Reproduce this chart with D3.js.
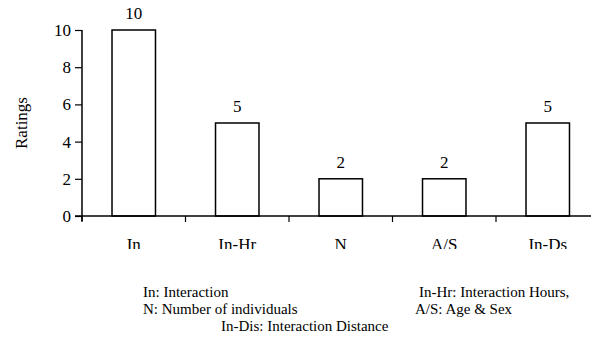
<!DOCTYPE html>
<html><head><meta charset="utf-8">
<script src="https://cdn.jsdelivr.net/npm/d3@7"></script>
<style>body{margin:0;background:#fff}svg{display:block}</style>
</head><body>
<script>
const categories = ["In", "In-Hr", "N", "A/S", "In-Ds"];
const ratings = [10, 5, 2, 2, 5];
const yTicks = [0, 2, 4, 6, 8, 10];
const notes = [
  ["In: Interaction", 143, 297],
  ["In-Hr: Interaction Hours,", 419, 297],
  ["N: Number of individuals", 143, 314],
  ["A/S: Age & Sex", 415, 314],
  ["In-Dis: Interaction Distance", 221, 331]
];

const W = 591, H = 339;
const svg = d3.select("body").append("svg").attr("width", W).attr("height", H)
  .attr("font-family", "Liberation Serif");
const x0 = 82, bandW = 103.5;
const x = d3.scaleBand().domain(categories).range([x0, x0 + bandW * categories.length]).paddingInner(0.58).paddingOuter(0.29);
const y = d3.scaleLinear().domain([0, 10]).range([216, 30]);

// bars
svg.selectAll("rect.bar").data(ratings).join("rect")
  .attr("x", (d, i) => x(categories[i]))
  .attr("y", d => y(d))
  .attr("width", x.bandwidth())
  .attr("height", d => y(0) - y(d))
  .attr("fill", "#fff").attr("stroke", "#000").attr("stroke-width", 1.5);

// value labels
svg.selectAll("text.val").data(ratings).join("text")
  .attr("x", (d, i) => x(categories[i]) + x.bandwidth() / 2)
  .attr("y", d => y(d) - 11)
  .attr("text-anchor", "middle").attr("font-family", "Liberation Serif").attr("font-size", 17).text(d => d);

// y axis
const ya = svg.append("g").attr("transform", `translate(${x0},0)`)
  .call(d3.axisLeft(y).tickValues(yTicks).tickSize(7).tickSizeOuter(0).tickPadding(4))
  .attr("font-family", "Liberation Serif").attr("font-size", 17);
ya.select(".domain").attr("stroke", "#000").attr("stroke-width", 1.5).attr("d", `M0,${y(0)+5}V${y(10)}`);
ya.selectAll(".tick line").attr("stroke", "#000").attr("stroke-width", 1.2);
ya.selectAll(".tick text").attr("font-family", "Liberation Serif").attr("font-size", 17).attr("fill", "#000");

// x axis
const boundaries = d3.range(categories.length + 1).map(i => x0 + i * bandW);
svg.append("line").attr("x1", x0 - 7).attr("x2", W).attr("y1", y(0)).attr("y2", y(0)).attr("stroke", "#000").attr("stroke-width", 1.5);
svg.selectAll("line.xt").data(boundaries).join("line")
  .attr("x1", d => d).attr("x2", d => d).attr("y1", y(0)).attr("y2", y(0) + 6)
  .attr("stroke", "#000").attr("stroke-width", 1.2);

// category labels, cut at the bottom as in the reference
svg.append("defs").append("clipPath").attr("id", "catClip").append("rect")
  .attr("x", 0).attr("y", 220).attr("width", W).attr("height", 29);
svg.append("g").attr("clip-path", "url(#catClip)")
  .selectAll("text").data(categories).join("text")
  .attr("x", d => x(d) + x.bandwidth() / 2).attr("y", 250)
  .attr("text-anchor", "middle").attr("font-family", "Liberation Serif").attr("font-size", 17).text(d => d);

// y label
svg.append("text").attr("transform", `translate(27,123) rotate(-90)`)
  .attr("text-anchor", "middle").attr("font-family", "Liberation Serif").attr("font-size", 17).text("Ratings");

// notes
svg.selectAll("text.note").data(notes).join("text")
  .attr("x", d => d[1]).attr("y", d => d[2]).attr("font-family", "Liberation Serif").attr("font-size", 15).text(d => d[0]);
</script>
</body></html>
